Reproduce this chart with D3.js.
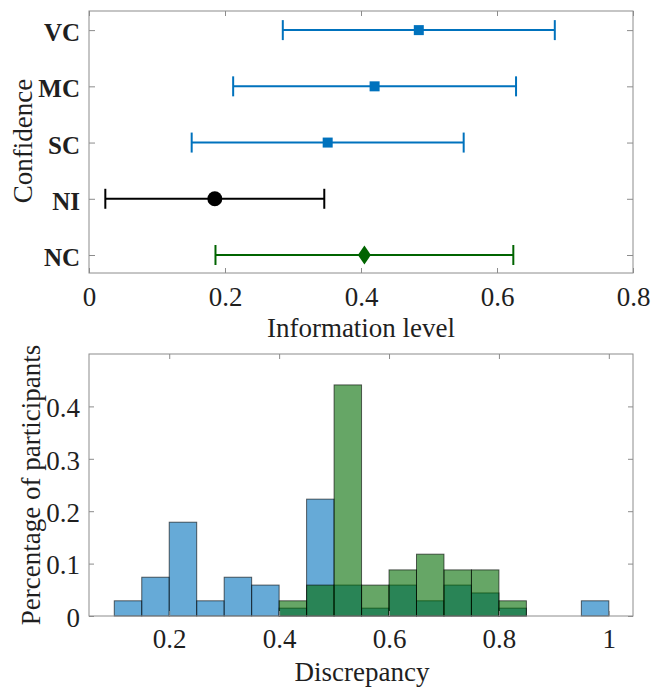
<!DOCTYPE html>
<html>
<head>
<meta charset="utf-8">
<script src="https://cdn.jsdelivr.net/npm/d3@7"></script>
<style>
  body { margin: 0; background: #fff; }
  svg text { font-family: "Liberation Serif", "Times New Roman", serif; fill: #1f1f1f; }
</style>
</head>
<body>
<svg id="chart" width="652" height="687"></svg>
<script>
// top panel: mean +/- error per confidence level
const categories = ["NC", "NI", "SC", "MC", "VC"];
const means = [0.405, 0.185, 0.351, 0.420, 0.485];
const errs = [0.219, 0.161, 0.200, 0.208, 0.200];
const infoTicks = [0, 0.2, 0.4, 0.6, 0.8];

// bottom panel: histograms, bin width 0.05
const binWidth = 0.05;
const blueStart = 0.10;
const blueValues = [0.029, 0.074, 0.179, 0.029, 0.074, 0.059, 0.015, 0.223, 0.059,
                    0.015, 0.059, 0.029, 0.059, 0.044, 0.015, 0, 0, 0.029];
const greenStart = 0.40;
const greenValues = [0.029, 0.059, 0.441, 0.059, 0.088, 0.118, 0.088, 0.088, 0.029];
const discTicks = [0.2, 0.4, 0.6, 0.8, 1];
const pctTicks = [0, 0.1, 0.2, 0.3, 0.4];

const svg = d3.select("#chart");
const left = 89, right = 633;
const fmt = d => String(+d.toFixed(1));

// ---------- top panel ----------
const topY0 = 11, topY1 = 273;
const x1 = d3.scaleLinear().domain([0, 0.8]).range([left, right]);
const y1 = d3.scaleLinear().domain([0.68, 5.34]).range([topY1, topY0]);
const colors = ["#006400", "#000000", "#0072BD", "#0072BD", "#0072BD"];

const topG = svg.append("g");

topG.append("g").attr("transform", `translate(0,${topY1})`)
  .call(d3.axisBottom(x1).tickValues(infoTicks).tickFormat(fmt).tickSizeInner(-5).tickSizeOuter(0))
  .call(g => g.select(".domain").remove())
  .call(g => g.selectAll("text").attr("y", 33).attr("dy", null).attr("font-size", 27));
topG.append("g").attr("transform", `translate(0,${topY0})`)
  .call(d3.axisTop(x1).tickValues(infoTicks).tickFormat("").tickSizeInner(-5).tickSizeOuter(0))
  .call(g => g.select(".domain").remove());
topG.append("g").attr("transform", `translate(${left},0)`)
  .call(d3.axisLeft(y1).tickValues([1, 2, 3, 4, 5]).tickFormat((d, i) => categories[i]).tickSizeInner(-6).tickSizeOuter(0))
  .call(g => g.select(".domain").remove())
  .call(g => g.selectAll("text").attr("x", -9).attr("dy", "0.42em").attr("font-size", 25).attr("font-weight", "bold"));
topG.append("g").attr("transform", `translate(${right},0)`)
  .call(d3.axisRight(y1).tickValues([1, 2, 3, 4, 5]).tickFormat("").tickSizeInner(-6).tickSizeOuter(0))
  .call(g => g.select(".domain").remove());
topG.selectAll(".tick line").attr("stroke", "#8c8c8c");

topG.append("rect").attr("x", left).attr("y", topY0)
  .attr("width", right - left).attr("height", topY1 - topY0)
  .attr("fill", "none").attr("stroke", "#8c8c8c");

const rows = categories.map((c, i) => ({ c, pos: i + 1, m: means[i], e: errs[i], col: colors[i] }));
const eb = topG.selectAll(".eb").data(rows).join("g").attr("class", "eb")
  .attr("stroke", d => d.col).attr("stroke-width", 2);
eb.append("line")
  .attr("x1", d => x1(d.m - d.e)).attr("x2", d => x1(d.m + d.e))
  .attr("y1", d => y1(d.pos)).attr("y2", d => y1(d.pos));
eb.append("line")
  .attr("x1", d => x1(d.m - d.e)).attr("x2", d => x1(d.m - d.e))
  .attr("y1", d => y1(d.pos) - 10).attr("y2", d => y1(d.pos) + 10);
eb.append("line")
  .attr("x1", d => x1(d.m + d.e)).attr("x2", d => x1(d.m + d.e))
  .attr("y1", d => y1(d.pos) - 10).attr("y2", d => y1(d.pos) + 10);

// markers
eb.each(function (d) {
  const g = d3.select(this);
  const cx = x1(d.m), cy = y1(d.pos);
  if (d.c === "NI") {
    g.append("circle").attr("cx", cx).attr("cy", cy).attr("r", 7.5)
      .attr("fill", d.col).attr("stroke", "none");
  } else if (d.c === "NC") {
    g.append("path").attr("d", `M${cx},${cy - 9.5}L${cx + 6.5},${cy}L${cx},${cy + 9.5}L${cx - 6.5},${cy}Z`)
      .attr("fill", d.col).attr("stroke", "none");
  } else {
    g.append("rect").attr("x", cx - 5).attr("y", cy - 5).attr("width", 10).attr("height", 10)
      .attr("fill", d.col).attr("stroke", "none");
  }
});

topG.append("text").attr("x", 361).attr("y", 337).attr("text-anchor", "middle")
  .attr("font-size", 27).text("Information level");
topG.append("text").attr("transform", "translate(32,141) rotate(-90)").attr("text-anchor", "middle")
  .attr("font-size", 27).text("Confidence");

// ---------- bottom panel ----------
const botY0 = 354, botY1 = 616;
const x2 = d3.scaleLinear().domain([0.054, 1.044]).range([left, right]);
const y2 = d3.scaleLinear().domain([0, 0.5]).range([botY1, botY0]);

const botG = svg.append("g");

const blueBins = blueValues.map((v, i) => ({ x0: blueStart + i * binWidth, v }));
const greenBins = greenValues.map((v, i) => ({ x0: greenStart + i * binWidth, v }));

function drawBars(bins, fill) {
  botG.append("g").selectAll("rect").data(bins).join("rect")
    .attr("x", d => x2(d.x0))
    .attr("width", d => x2(d.x0 + binWidth) - x2(d.x0))
    .attr("y", d => y2(d.v))
    .attr("height", d => y2(0) - y2(d.v))
    .attr("fill", fill).attr("fill-opacity", 0.6)
    .attr("stroke", "#000").attr("stroke-opacity", 0.6).attr("stroke-width", 1);
}
drawBars(blueBins, "#0072BD");
drawBars(greenBins, "rgb(0,106,0)");

botG.append("g").attr("transform", `translate(0,${botY1})`)
  .call(d3.axisBottom(x2).tickValues(discTicks).tickFormat(fmt).tickSizeInner(-5).tickSizeOuter(0))
  .call(g => g.select(".domain").remove())
  .call(g => g.selectAll("text").attr("y", 32).attr("dy", null).attr("font-size", 27));
botG.append("g").attr("transform", `translate(0,${botY0})`)
  .call(d3.axisTop(x2).tickValues(discTicks).tickFormat("").tickSizeInner(-5).tickSizeOuter(0))
  .call(g => g.select(".domain").remove());
botG.append("g").attr("transform", `translate(${left},0)`)
  .call(d3.axisLeft(y2).tickValues(pctTicks).tickFormat(fmt).tickSizeInner(-5).tickSizeOuter(0))
  .call(g => g.select(".domain").remove())
  .call(g => g.selectAll("text").attr("x", -9).attr("dy", "0.38em").attr("font-size", 27));
botG.append("g").attr("transform", `translate(${right},0)`)
  .call(d3.axisRight(y2).tickValues(pctTicks).tickFormat("").tickSizeInner(-5).tickSizeOuter(0))
  .call(g => g.select(".domain").remove());
botG.selectAll(".tick line").attr("stroke", "#8c8c8c");

botG.append("rect").attr("x", left).attr("y", botY0)
  .attr("width", right - left).attr("height", botY1 - botY0)
  .attr("fill", "none").attr("stroke", "#8c8c8c");

botG.append("text").attr("x", 362).attr("y", 681).attr("text-anchor", "middle")
  .attr("font-size", 27).text("Discrepancy");
botG.append("text").attr("transform", "translate(40,485) rotate(-90)").attr("text-anchor", "middle")
  .attr("font-size", 27).text("Percentage of participants");
</script>
</body>
</html>
